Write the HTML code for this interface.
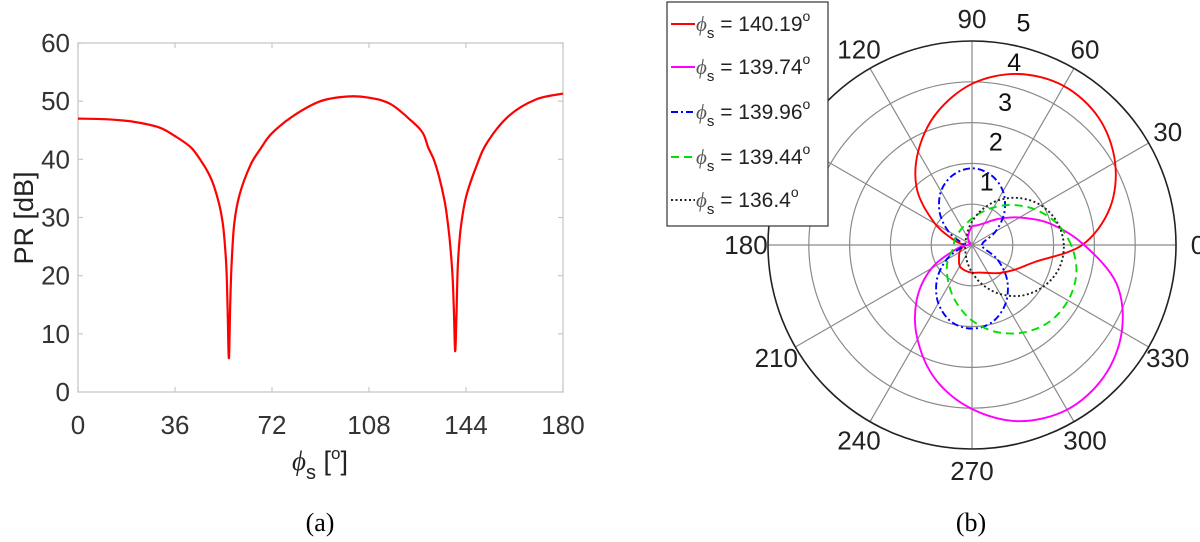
<!DOCTYPE html>
<html><head><meta charset="utf-8"><style>
html,body{margin:0;padding:0;background:#fff;}
svg{display:block;font-family:"Liberation Sans",sans-serif;}
</style></head><body>
<svg id="fig" width="1200" height="542" viewBox="0 0 1200 542">
<g id="left"></g>
<g id="right"></g>
</svg>
<script>
// ---- Left chart data ----
const prAngles = [0,10,20,30,36,42,46,48,50,52,53,54,55,55.5,56,56.5,57,58,60,64,68,72,80,90,100,108,116,124,128,130,132,134,136,137,138,139,139.5,140,140.5,141,142,144,148,152,160,170,180];
const prValues = [47,46.9,46.5,45.5,44,42,39.5,38,36,33,31,28,22,15,5.8,15,22,29,34,39,42,44.5,47.5,50,50.8,50.6,49.5,46.5,44.5,42,40,37,33,30,26,20,14,7,14,22,28,33.5,39,43,47.5,50.3,51.3];
const xTicks = [0,36,72,108,144,180];
const yTicks = [0,10,20,30,40,50,60];

// ---- Polar chart data (radius samples every 15 degrees, 0..345) ----
const polarAngles = [0,15,30,45,60,75,90,105,120,135,150,165,180,195,210,225,240,255,270,285,300,315,330,345];
const redR     = [2.7,3.5,4.05,4.4,4.5,4.34,3.95,3.35,2.64,1.9,1.05,0.45,0.2,0.25,0.35,0.45,0.6,0.65,0.68,0.7,0.79,0.97,1.21,1.6];
const magentaR = [2.75,2.0,1.35,0.9,0.62,0.5,0.45,0.3,0.2,0.1,0.05,0.05,0.1,0.4,1.15,1.92,2.67,3.42,4.02,4.47,4.66,4.57,4.24,3.67];
const blueR    = [0.25,0.3,0.67,1.12,1.52,1.78,1.88,1.78,1.52,1.12,0.67,0.3,0.2,0.3,0.73,1.22,1.65,1.95,2.05,1.95,1.65,1.22,0.73,0.3];
const greenR   = [2.43,2.13,1.76,1.39,1.06,0.82,0.65,0.54,0.48,0.45,0.44,0.44,0.45,0.5,0.68,0.87,1.13,1.47,1.85,2.2,2.48,2.67,2.72,2.65];
const blackR   = [2.25,2.16,1.95,1.63,1.26,0.88,0.57,0.37,0.27,0.21,0.19,0.17,0.17,0.18,0.19,0.23,0.3,0.44,0.67,1.01,1.39,1.75,2.03,2.21];
const ringTicks = [1,2,3,4,5];
const angleTicks = [0,30,60,90,120,150,180,210,240,270,300,330];
const legendLabels = ["140.19","139.74","139.96","139.44","136.4"];

const NS="http://www.w3.org/2000/svg";
function mk(parent,tag,attrs,text){const e=document.createElementNS(NS,tag);for(const k in attrs)e.setAttribute(k,attrs[k]);if(text!==undefined)e.textContent=text;parent.appendChild(e);return e;}
function spline(P,closed){
  const n=P.length;let s='M'+P[0][0].toFixed(1)+','+P[0][1].toFixed(1);
  const last=closed?n:n-1;
  for(let i=0;i<last;i++){
    const g=j=>closed?P[(j+n)%n]:P[Math.max(0,Math.min(n-1,j))];
    const p0=g(i-1),p1=g(i),p2=g(i+1),p3=g(i+2);
    const c1=[p1[0]+(p2[0]-p0[0])/6,p1[1]+(p2[1]-p0[1])/6],c2=[p2[0]-(p3[0]-p1[0])/6,p2[1]-(p3[1]-p1[1])/6];
    s+='C'+c1[0].toFixed(1)+','+c1[1].toFixed(1)+' '+c2[0].toFixed(1)+','+c2[1].toFixed(1)+' '+p2[0].toFixed(1)+','+p2[1].toFixed(1);
  }
  return closed?s+'Z':s;
}

// ---- Left chart ----
const L=document.getElementById('left');
const ax={x0:78,x1:563,y0:392,y1:43};
const xS=v=>ax.x0+(v-0)/(180-0)*(ax.x1-ax.x0);
const yS=v=>ax.y0-(v-0)/(60-0)*(ax.y0-ax.y1);
const box=mk(L,'rect',{x:ax.x0,y:ax.y1,width:ax.x1-ax.x0,height:ax.y0-ax.y1,fill:'#fff',stroke:'#c8c8c8','stroke-width':1.3});


xTicks.forEach(t=>{
  const l=mk(L,'line',{x1:xS(t),x2:xS(t),y1:ax.y0,y2:ax.y0-5,stroke:'#c8c8c8','stroke-width':1.2});
  
  
  mk(L,'line',{x1:xS(t),x2:xS(t),y1:ax.y1,y2:ax.y1+5,stroke:'#c8c8c8','stroke-width':1.2});
  const tx=mk(L,'text',{x:xS(t),y:ax.y0+42,'text-anchor':'middle','font-size':26,fill:'#333'},t);
  
  
});
yTicks.forEach(t=>{
  const l=mk(L,'line',{x1:ax.x0,x2:ax.x0+5,y1:yS(t),y2:yS(t),stroke:'#c8c8c8','stroke-width':1.2});
  
  
  mk(L,'line',{x1:ax.x1,x2:ax.x1-5,y1:yS(t),y2:yS(t),stroke:'#c8c8c8','stroke-width':1.2});
  const tx=mk(L,'text',{x:ax.x0-8,y:yS(t)+9,'text-anchor':'end','font-size':26,fill:'#333'},t);
  
  
});
const pl=mk(L,'path',{d:spline(prAngles.map((a,i)=>[xS(a),yS(prValues[i])]),false),fill:'none',stroke:'#ff0000','stroke-width':2.2,'stroke-linejoin':'round'});


const yl=mk(L,'text',{x:0,y:0,transform:'translate(33,218) rotate(-90)','text-anchor':'middle','font-size':27,fill:'#222'},'PR [dB]');


const xl=mk(L,'text',{x:320,y:470,'text-anchor':'middle','font-size':27,fill:'#222'});


xl.innerHTML='<tspan font-family="Liberation Serif" font-style="italic">ϕ</tspan><tspan font-size="20" dy="9">s</tspan><tspan dy="-9"> [</tspan><tspan font-size="17" dy="-11">o</tspan><tspan dy="11">]</tspan>';
const ca=mk(L,'text',{x:320,y:531,'text-anchor':'middle','font-size':26,'font-family':'Liberation Serif',fill:'#000'},'(a)');



// ---- Polar chart ----
const R=document.getElementById('right');
const cx=972,cy=245,Rout=204,rMax=5;
const rS=r=>r/rMax*Rout;
const pt=(ang,r)=>[cx+rS(r)*Math.cos(ang*Math.PI/180),cy-rS(r)*Math.sin(ang*Math.PI/180)];
mk(R,'circle',{cx:cx,cy:cy,r:Rout,fill:'#fff',stroke:'none'});
ringTicks.slice(0,-1).forEach(k=>{
  const c=mk(R,'circle',{cx:cx,cy:cy,r:rS(k),fill:'none',stroke:'#8a8a8a','stroke-width':1.2});
  
  
});
angleTicks.forEach(a=>{
  const p=pt(a,rMax);
  const l=mk(R,'line',{x1:cx,y1:cy,x2:p[0],y2:p[1],stroke:'#8a8a8a','stroke-width':1.2});
  
  
  const q=[cx+226*Math.cos(a*Math.PI/180),cy-226*Math.sin(a*Math.PI/180)];
  const t=mk(R,'text',{x:q[0],y:q[1]+9,'text-anchor':'middle','font-size':26,fill:'#222'},a);
  
  
});
const oc=mk(R,'circle',{cx:cx,cy:cy,r:Rout,fill:'none',stroke:'#222','stroke-width':1.6});


ringTicks.forEach(k=>{
  const p=pt(77,k+0.6);
  const t=mk(R,'text',{x:p[0],y:p[1]+9,'text-anchor':'middle','font-size':25,fill:'#111'},k);
  
  
});
const series=[[redR,'#ff0000','none','series-140-19'],[magentaR,'#ff00ff','none','series-139-74'],[blueR,'#0000ff','7,3,2,3','series-139-96'],[greenR,'#00e000','8,5','series-139-44'],[blackR,'#222','2,2.5','series-136-4']];
series.forEach(s=>{
  const p=mk(R,'path',{d:spline(polarAngles.map((a,i)=>pt(a,s[0][i])),true),fill:'none',stroke:s[1],'stroke-width':1.9,'stroke-dasharray':s[2]});
  
  
});
// legend
const lg=mk(R,'g',{});


mk(lg,'rect',{x:667,y:2,width:161,height:224,fill:'#fff',stroke:'#333','stroke-width':1.2});
const ly=[24,67,112,157,200];
legendLabels.forEach((lab,i)=>{
  const e=mk(lg,'g',{});
  
  
  mk(e,'line',{x1:671,x2:695,y1:ly[i],y2:ly[i],stroke:series[i][1],'stroke-width':1.9,'stroke-dasharray':series[i][2]});
  const t=mk(e,'text',{x:696,y:ly[i]+7,'font-size':21,fill:'#222'});
  t.innerHTML='<tspan font-family="Liberation Serif" font-style="italic" fill="#555">ϕ</tspan><tspan font-size="15" dy="7">s</tspan><tspan dy="-7"> = '+lab+'</tspan><tspan font-size="14" dy="-10">o</tspan>';
});
const cb=mk(R,'text',{x:971,y:531,'text-anchor':'middle','font-size':26,'font-family':'Liberation Serif',fill:'#000'},'(b)');


</script>
</body></html>
